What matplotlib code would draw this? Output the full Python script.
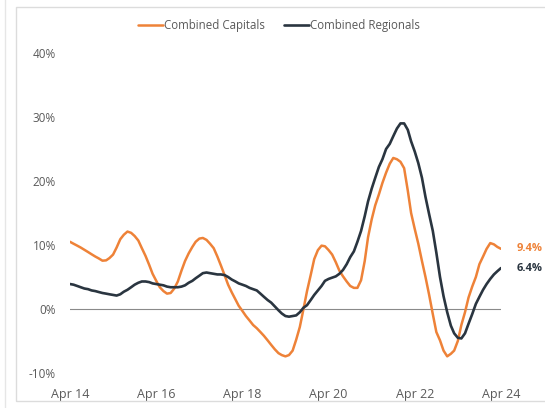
import matplotlib
matplotlib.use("Agg")
import matplotlib.pyplot as plt
import matplotlib.dates as mdates
from matplotlib.lines import Line2D
from matplotlib.patches import Rectangle
import pandas as pd

# Annual change in dwelling values, monthly
dates = pd.date_range("2014-04-01", "2024-04-01", freq="MS")

capitals = [
    10.5, 10.2, 9.9, 9.6, 9.25, 8.9, 8.55, 8.2, 7.9, 7.55,
    7.6, 7.95, 8.5, 9.6, 10.9, 11.6, 12.1, 11.9, 11.4, 10.7,
    9.5, 8.3, 6.9, 5.5, 4.4, 3.4, 2.8, 2.4, 2.5, 3.2,
    4.3, 6.0, 7.5, 8.7, 9.7, 10.5, 11.0, 11.1, 10.8, 10.2,
    9.5, 8.2, 6.8, 5.3, 3.8, 2.6, 1.5, 0.5, -0.3, -1.1,
    -1.8, -2.5, -3.0, -3.6, -4.2, -4.9, -5.6, -6.3, -6.9, -7.2,
    -7.4, -7.2, -6.5, -4.8, -2.8, 0.0, 2.8, 5.3, 7.8, 9.2,
    9.9, 9.8, 9.2, 8.5, 7.3, 6.0, 5.1, 4.3, 3.6, 3.3,
    3.3, 4.5, 7.5, 11.2, 14.0, 16.2, 17.9, 19.7, 21.3, 22.7,
    23.6, 23.4, 23.0, 22.0, 18.5, 15.0, 12.5, 10.2, 7.5, 5.0,
    2.2, -0.8, -3.6, -4.9, -6.5, -7.4, -7.0, -6.5, -5.0, -2.5,
    -0.5, 1.8, 3.5, 5.0, 7.0, 8.2, 9.4, 10.3, 10.1, 9.7,
    9.4,
]

regionals = [
    3.9, 3.8, 3.6, 3.4, 3.2, 3.1, 2.9, 2.8, 2.65, 2.5,
    2.4, 2.3, 2.2, 2.1, 2.3, 2.7, 3.0, 3.4, 3.8, 4.1,
    4.3, 4.3, 4.2, 4.0, 3.9, 3.8, 3.7, 3.5, 3.4, 3.4,
    3.4, 3.5, 3.7, 4.1, 4.4, 4.8, 5.2, 5.6, 5.7, 5.6,
    5.5, 5.4, 5.4, 5.3, 5.0, 4.6, 4.3, 4.0, 3.8, 3.6,
    3.3, 3.1, 2.9, 2.4, 1.9, 1.4, 1.0, 0.4, -0.2, -0.7,
    -1.1, -1.2, -1.1, -1.0, -0.5, 0.2, 0.6, 1.4, 2.2, 2.9,
    3.6, 4.4, 4.7, 4.9, 5.1, 5.5, 6.1, 7.0, 8.1, 9.0,
    10.5, 12.2, 14.5, 16.8, 18.8, 20.5, 22.2, 23.4, 25.0, 25.8,
    27.0, 28.2, 29.0, 29.0, 28.0, 26.2, 24.6, 22.8, 20.5, 17.5,
    14.8, 12.2, 8.8, 5.0, 2.0, -0.5, -2.6, -3.8, -4.5, -4.6,
    -3.8, -2.3, -0.8, 0.8, 1.9, 3.0, 3.9, 4.7, 5.4, 5.9,
    6.4,
]

series_names = ["Combined Capitals", "Combined Regionals"]
end_labels = ["9.4%", "6.4%"]
y_ticks = [-10, 0, 10, 20, 30, 40]

ORANGE = "#EE8238"
DARK = "#2A3540"
TEXT = "#5a5a5a"
FONT = ["Open Sans", "DejaVu Sans"]
plt.rcParams["font.family"] = FONT

W, H = 545, 408
fig = plt.figure(figsize=(W / 100, H / 100), dpi=100)
fig.patch.set_facecolor("white")

# card outline
fig.add_artist(Line2D([5 / W, 5 / W], [0, 1], color="#e6e6e6", lw=1.0,
                      transform=fig.transFigure))
fig.add_artist(Rectangle((16 / W, 1 - 401 / H), 1.0, (401 - 7) / H,
                         transform=fig.transFigure, fill=False,
                         edgecolor="#dcdcdc", lw=1.0))

left, right = 70 / W, 501 / W
bottom, top = 1 - 373 / H, 1 - 53 / H
ax = fig.add_axes([left, bottom, right - left, top - bottom])

ax.plot(dates, capitals, color=ORANGE, lw=1.8, solid_capstyle="round",
        solid_joinstyle="round", label=series_names[0])
ax.plot(dates, regionals, color=DARK, lw=1.9, solid_capstyle="round",
        solid_joinstyle="round", label=series_names[1])
ax.axhline(0, color="#8a8a8a", lw=0.8, zorder=0)

ax.set_xlim(dates[0], dates[-1])
ax.set_ylim(-10, 40)
ax.set_yticks(y_ticks)
ax.set_yticklabels([f"{v}%" for v in y_ticks])
ax.xaxis.set_major_locator(mdates.MonthLocator(bymonth=[4], interval=24))
ax.xaxis.set_major_formatter(mdates.DateFormatter("%b %y"))
ax.tick_params(axis="both", length=0, colors=TEXT)
ax.tick_params(axis="y", pad=10, labelsize=8.5)
ax.tick_params(axis="x", pad=11, labelsize=9)
for s in ax.spines.values():
    s.set_visible(False)

# value labels at the end of each line
ax.annotate(end_labels[0], xy=(dates[-1], capitals[-1]), xytext=(11, 0),
            textcoords="offset points", color=ORANGE, fontsize=8,
            fontweight="bold", va="center", ha="left", annotation_clip=False)
ax.annotate(end_labels[1], xy=(dates[-1], regionals[-1]), xytext=(11, 0),
            textcoords="offset points", color=DARK, fontsize=8,
            fontweight="bold", va="center", ha="left", annotation_clip=False)

fig.legend(loc="center", bbox_to_anchor=(279 / W, 1 - 26 / H), ncol=2,
           frameon=False, fontsize=8.3, handlelength=2.2, handletextpad=0.1,
           columnspacing=1.6, labelcolor=TEXT)

fig.savefig("out.png", dpi=100, facecolor="white")
